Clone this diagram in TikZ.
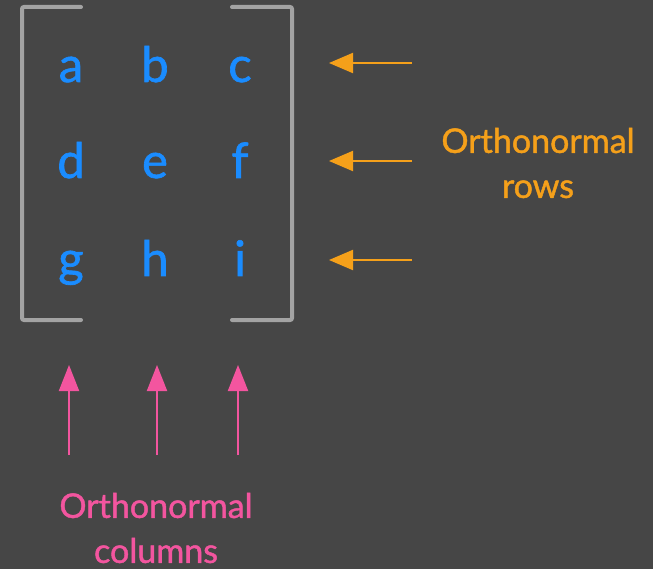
\documentclass[tikz,border=0pt]{standalone}
\usepackage{fontspec}
\setmainfont{Lato}
\newfontfamily\medfont{Lato}[FakeBold=1.3]
\usetikzlibrary{arrows.meta}
\definecolor{bg}{HTML}{464646}
\definecolor{brk}{HTML}{A3A3A3}
\definecolor{ent}{HTML}{1A8CFF}
\definecolor{org}{HTML}{F5A01A}
\definecolor{pnk}{HTML}{F3559F}
\tikzset{
  entry/.style={text=ent, font=\medfont\fontsize{49}{52}\selectfont, inner sep=0pt, anchor=base},
  bracketline/.style={draw=brk, line width=4pt, line cap=round, rounded corners=2pt},
  rowarrow/.style={draw=org, line width=2pt, -{Triangle[length=24pt,width=20pt]}},
  colarrow/.style={draw=pnk, line width=2pt, -{Triangle[length=26pt,width=20pt]}},
  lbl/.style={font=\medfont\fontsize{34}{45}\selectfont, align=center, inner sep=0pt}
}
\begin{document}
\begin{tikzpicture}[x=1pt,y=-1pt]
\fill[bg] (0,0) rectangle (653,569);
\useasboundingbox (0,0) rectangle (653,569);
% brackets
\draw[bracketline] (81,7) -- (22,7) -- (22,320) -- (81,320);
\draw[bracketline] (232,7) -- (292,7) -- (292,320) -- (232,320);
% entries
\node[entry] (a) at (71,82) {a};
\node[entry] (b) at (155,82) {b};
\node[entry] (c) at (240,82) {c};
\node[entry] (d) at (71,178) {d};
\node[entry] (e) at (155,178) {e};
\node[entry] (f) at (240,178) {f};
\node[entry] (g) at (71,276) {g};
\node[entry] (h) at (155,276) {h};
\node[entry] (i) at (240,276) {i};
% row arrows
\coordinate (r1s) at (412,63); \coordinate (r1e) at (329,63);
\coordinate (r2s) at (412,161); \coordinate (r2e) at (329,161);
\coordinate (r3s) at (412,260); \coordinate (r3e) at (329,260);
\draw[rowarrow] (r1s) -- (r1e);
\draw[rowarrow] (r2s) -- (r2e);
\draw[rowarrow] (r3s) -- (r3e);
\node[lbl, text=org] (rows) at (538,163) {Orthonormal\\rows};
% column arrows
\coordinate (c1s) at (69,455); \coordinate (c1e) at (69,365);
\coordinate (c2s) at (157,455); \coordinate (c2e) at (157,365);
\coordinate (c3s) at (238,455); \coordinate (c3e) at (238,365);
\draw[colarrow] (c1s) -- (c1e);
\draw[colarrow] (c2s) -- (c2e);
\draw[colarrow] (c3s) -- (c3e);
\node[lbl, text=pnk] (cols) at (156,528) {Orthonormal\\columns};
\end{tikzpicture}
\end{document}
